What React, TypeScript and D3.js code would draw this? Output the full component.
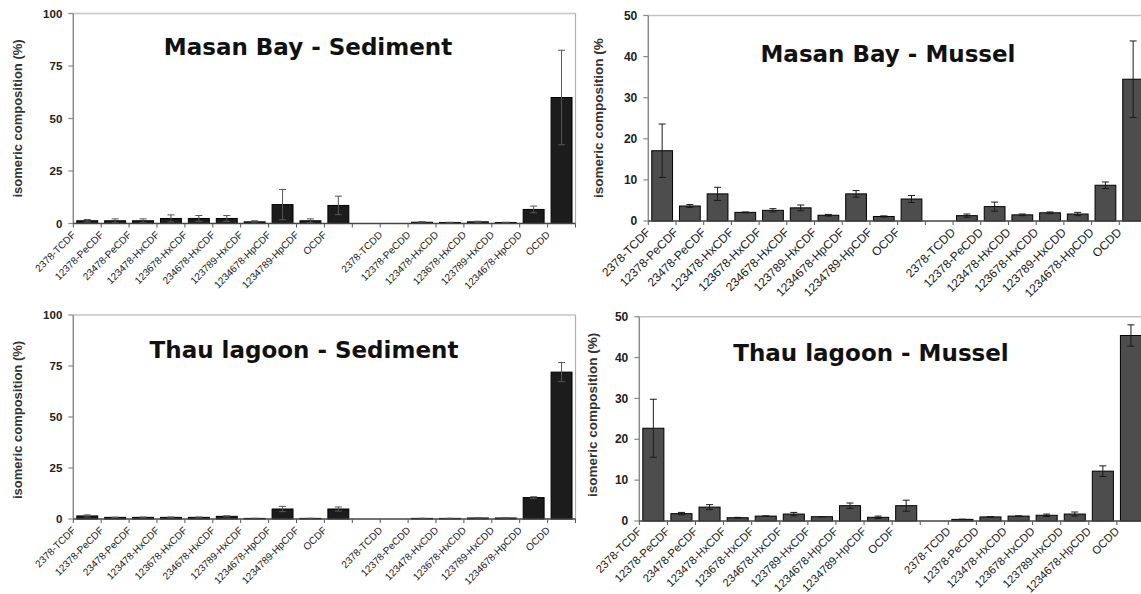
import React from "react";
import * as d3 from "d3";

const categories = [
  "2378-TCDF", "12378-PeCDF", "23478-PeCDF", "123478-HxCDF", "123678-HxCDF",
  "234678-HxCDF", "123789-HxCDF", "1234678-HpCDF", "1234789-HpCDF", "OCDF",
  "", "2378-TCDD", "12378-PeCDD", "123478-HxCDD", "123678-HxCDD",
  "123789-HxCDD", "1234678-HpCDD", "OCDD",
];

const masanSediment = [1.3, 1.3, 1.3, 2.4, 2.4, 2.4, 0.8, 9.0, 1.3, 8.6, 0, 0, 0.6, 0.5, 0.8, 0.5, 6.7, 60.0];
const masanSedimentErr = [0.6, 0.9, 0.9, 1.7, 1.4, 1.4, 0.5, 7.2, 0.9, 4.4, 0, 0, 0.3, 0.1, 0.3, 0.1, 1.6, 22.5];

const masanMussel = [17.1, 3.65, 6.6, 2.1, 2.6, 3.2, 1.4, 6.6, 1.1, 5.35, 0, 1.3, 3.5, 1.5, 2.0, 1.7, 8.7, 34.5];
const masanMusselErr = [6.5, 0.35, 1.6, 0.1, 0.4, 0.7, 0.2, 0.8, 0.15, 0.85, 0, 0.4, 1.1, 0.2, 0.2, 0.4, 0.8, 9.3];

const thauSediment = [1.5, 0.8, 0.8, 0.8, 0.8, 1.3, 0.3, 4.9, 0.3, 4.9, 0, 0, 0.3, 0.3, 0.5, 0.5, 10.5, 72.0];
const thauSedimentErr = [0.5, 0.1, 0.2, 0.2, 0.2, 0.3, 0.05, 1.3, 0.05, 1.0, 0, 0, 0.05, 0.05, 0.1, 0.1, 0.4, 4.7];

const thauMussel = [22.7, 1.8, 3.4, 0.8, 1.2, 1.7, 1.05, 3.75, 0.9, 3.75, 0, 0.4, 1.0, 1.2, 1.4, 1.7, 12.2, 45.4];
const thauMusselErr = [7.1, 0.3, 0.6, 0.1, 0.05, 0.4, 0.05, 0.65, 0.3, 1.35, 0, 0.05, 0.05, 0.05, 0.3, 0.5, 1.3, 2.6];

const sedimentTicks = [0, 25, 50, 75, 100];
const musselTicks = [0, 10, 20, 30, 40, 50];

const titles = ["Masan Bay - Sediment", "Masan Bay - Mussel", "Thau lagoon - Sediment", "Thau lagoon - Mussel"];
const yTitles = ["isomeric composition (%)", "isomeric composition (%", "isomeric composition (%)", "isomeric composition (%)"];

type Panel = {
  values: number[];
  errs: number[];
  ticks: number[];
  max: number;
  x0: number;
  x1: number;
  yTop: number;
  yZero: number;
  fill: string;
  errColor: string;
  labelSize: number;
  labelOffset: number;
  tickSize: number;
  title: string;
  titleX: number;
  titleY: number;
  yTitle: string;
  yTitleX: number;
  yTitleY: number;
  yTitleSize: number;
  yTitleAnchor: string;
  rightBorder: boolean;
};

const panels: Panel[] = [
  {
    values: masanSediment, errs: masanSedimentErr, ticks: sedimentTicks, max: 100,
    x0: 73.3, x1: 575.5, yTop: 13.5, yZero: 223.5, fill: "#1c1c1c", errColor: "#555",
    labelSize: 10, labelOffset: 12, tickSize: 11.5, title: titles[0], titleX: 308, titleY: 55,
    yTitle: yTitles[0], yTitleX: 22, yTitleY: 118.5, yTitleSize: 13, yTitleAnchor: "middle", rightBorder: true,
  },
  {
    values: masanMussel, errs: masanMusselErr, ticks: musselTicks, max: 50,
    x0: 648.3, x1: 1147, yTop: 15.5, yZero: 221, fill: "#4d4d4d", errColor: "#1a1a1a",
    labelSize: 12, labelOffset: 12, tickSize: 12, title: titles[1], titleX: 888, titleY: 61.7,
    yTitle: yTitles[1], yTitleX: 603, yTitleY: 198, yTitleSize: 13.5, yTitleAnchor: "start", rightBorder: false,
  },
  {
    values: thauSediment, errs: thauSedimentErr, ticks: sedimentTicks, max: 100,
    x0: 73.3, x1: 575.5, yTop: 315, yZero: 519, fill: "#1c1c1c", errColor: "#555",
    labelSize: 10, labelOffset: 12, tickSize: 11.5, title: titles[2], titleX: 304, titleY: 358,
    yTitle: yTitles[2], yTitleX: 22, yTitleY: 420, yTitleSize: 13, yTitleAnchor: "middle", rightBorder: true,
  },
  {
    values: thauMussel, errs: thauMusselErr, ticks: musselTicks, max: 50,
    x0: 639.3, x1: 1145, yTop: 316.7, yZero: 521, fill: "#4d4d4d", errColor: "#1a1a1a",
    labelSize: 11.3, labelOffset: 11, tickSize: 12, title: titles[3], titleX: 871, titleY: 361,
    yTitle: yTitles[3], yTitleX: 597, yTitleY: 497, yTitleSize: 13.5, yTitleAnchor: "start", rightBorder: false,
  },
];

function ChartPanel({ p }: { p: Panel }) {
  const idx = categories.map((_, i) => String(i));
  const x = d3.scaleBand().domain(idx).range([p.x0, p.x1]).paddingInner(0.25).paddingOuter(0.125);
  const y = d3.scaleLinear().domain([0, p.max]).range([p.yZero, p.yTop]);
  const step = x.step();
  const bw = x.bandwidth();
  return (
    <g>
      <line x1={p.x0} x2={p.x1} y1={p.yTop} y2={p.yTop} stroke="#c4c4c4" strokeWidth={1.5} />
      {p.rightBorder && (
        <line x1={p.x1} x2={p.x1} y1={p.yTop} y2={p.yZero} stroke="#b0b0b0" strokeWidth={1.2} />
      )}
      {p.values.map((v, i) =>
        v > 0 ? (
          <rect key={"b" + i} x={x(String(i))} y={y(v)} width={bw} height={p.yZero - y(v)}
            fill={p.fill} stroke="#000" strokeWidth={1} />
        ) : null
      )}
      {p.values.map((v, i) => {
        const e = p.errs[i];
        if (!(v > 0) || !(e > 0)) return null;
        const cx = (x(String(i)) as number) + bw / 2;
        const yt = y(v + e);
        const yb = y(Math.max(0, v - e));
        return (
          <g key={"e" + i} stroke={p.errColor} strokeWidth={1}>
            <line x1={cx} x2={cx} y1={yt} y2={yb} />
            <line x1={cx - 3.5} x2={cx + 3.5} y1={yt} y2={yt} />
            <line x1={cx - 3.5} x2={cx + 3.5} y1={yb} y2={yb} />
          </g>
        );
      })}
      <line x1={p.x0} x2={p.x0} y1={p.yTop} y2={p.yZero} stroke="#8a8a8a" strokeWidth={1.5} />
      {p.ticks.map((t) => (
        <g key={"t" + t}>
          <line x1={p.x0 - 5} x2={p.x0} y1={y(t)} y2={y(t)} stroke="#8a8a8a" strokeWidth={1.2} />
          <text x={p.x0 - 11} y={y(t)} dy="0.35em" textAnchor="end" fontFamily="Liberation Sans, Arial, sans-serif"
            fontWeight="bold" fontSize={p.tickSize} fill="#222">{t}</text>
        </g>
      ))}
      <line x1={p.x0} x2={Math.min(p.x1, 1141)} y1={p.yZero} y2={p.yZero} stroke="#444" strokeWidth={1.3} />
      {d3.range(categories.length + 1).map((k) => (
        <line key={"xt" + k} x1={p.x0 + step * k} x2={p.x0 + step * k} y1={p.yZero} y2={p.yZero + 4}
          stroke="#555" strokeWidth={1} />
      ))}
      {categories.map((c, i) =>
        c ? (
          <text key={"l" + i} transform={`translate(${p.x0 + step * i + 3},${p.yZero + p.labelOffset}) rotate(-45)`}
            textAnchor="end" fontFamily="Liberation Sans, Arial, sans-serif" fontSize={p.labelSize} fill="#1a1a1a">
            {c}
          </text>
        ) : null
      )}
      <text x={p.titleX} y={p.titleY} textAnchor="middle" fontFamily="DejaVu Sans, Verdana, sans-serif"
        fontWeight="bold" fontSize={23} fill="#111">{p.title}</text>
      <text transform={`translate(${p.yTitleX},${p.yTitleY}) rotate(-90)`} textAnchor={p.yTitleAnchor}
        fontFamily="Liberation Sans, Arial, sans-serif" fontWeight="bold" fontSize={p.yTitleSize} fill="#333">
        {p.yTitle}
      </text>
    </g>
  );
}

export default function App() {
  return (
    <svg width={1141} height={594} style={{ position: "absolute", left: 0, top: 0, background: "#fff" }}>
      <rect x={0} y={0} width={1141} height={594} fill="#fff" />
      {panels.map((p, i) => (
        <ChartPanel key={i} p={p} />
      ))}
    </svg>
  );
}
